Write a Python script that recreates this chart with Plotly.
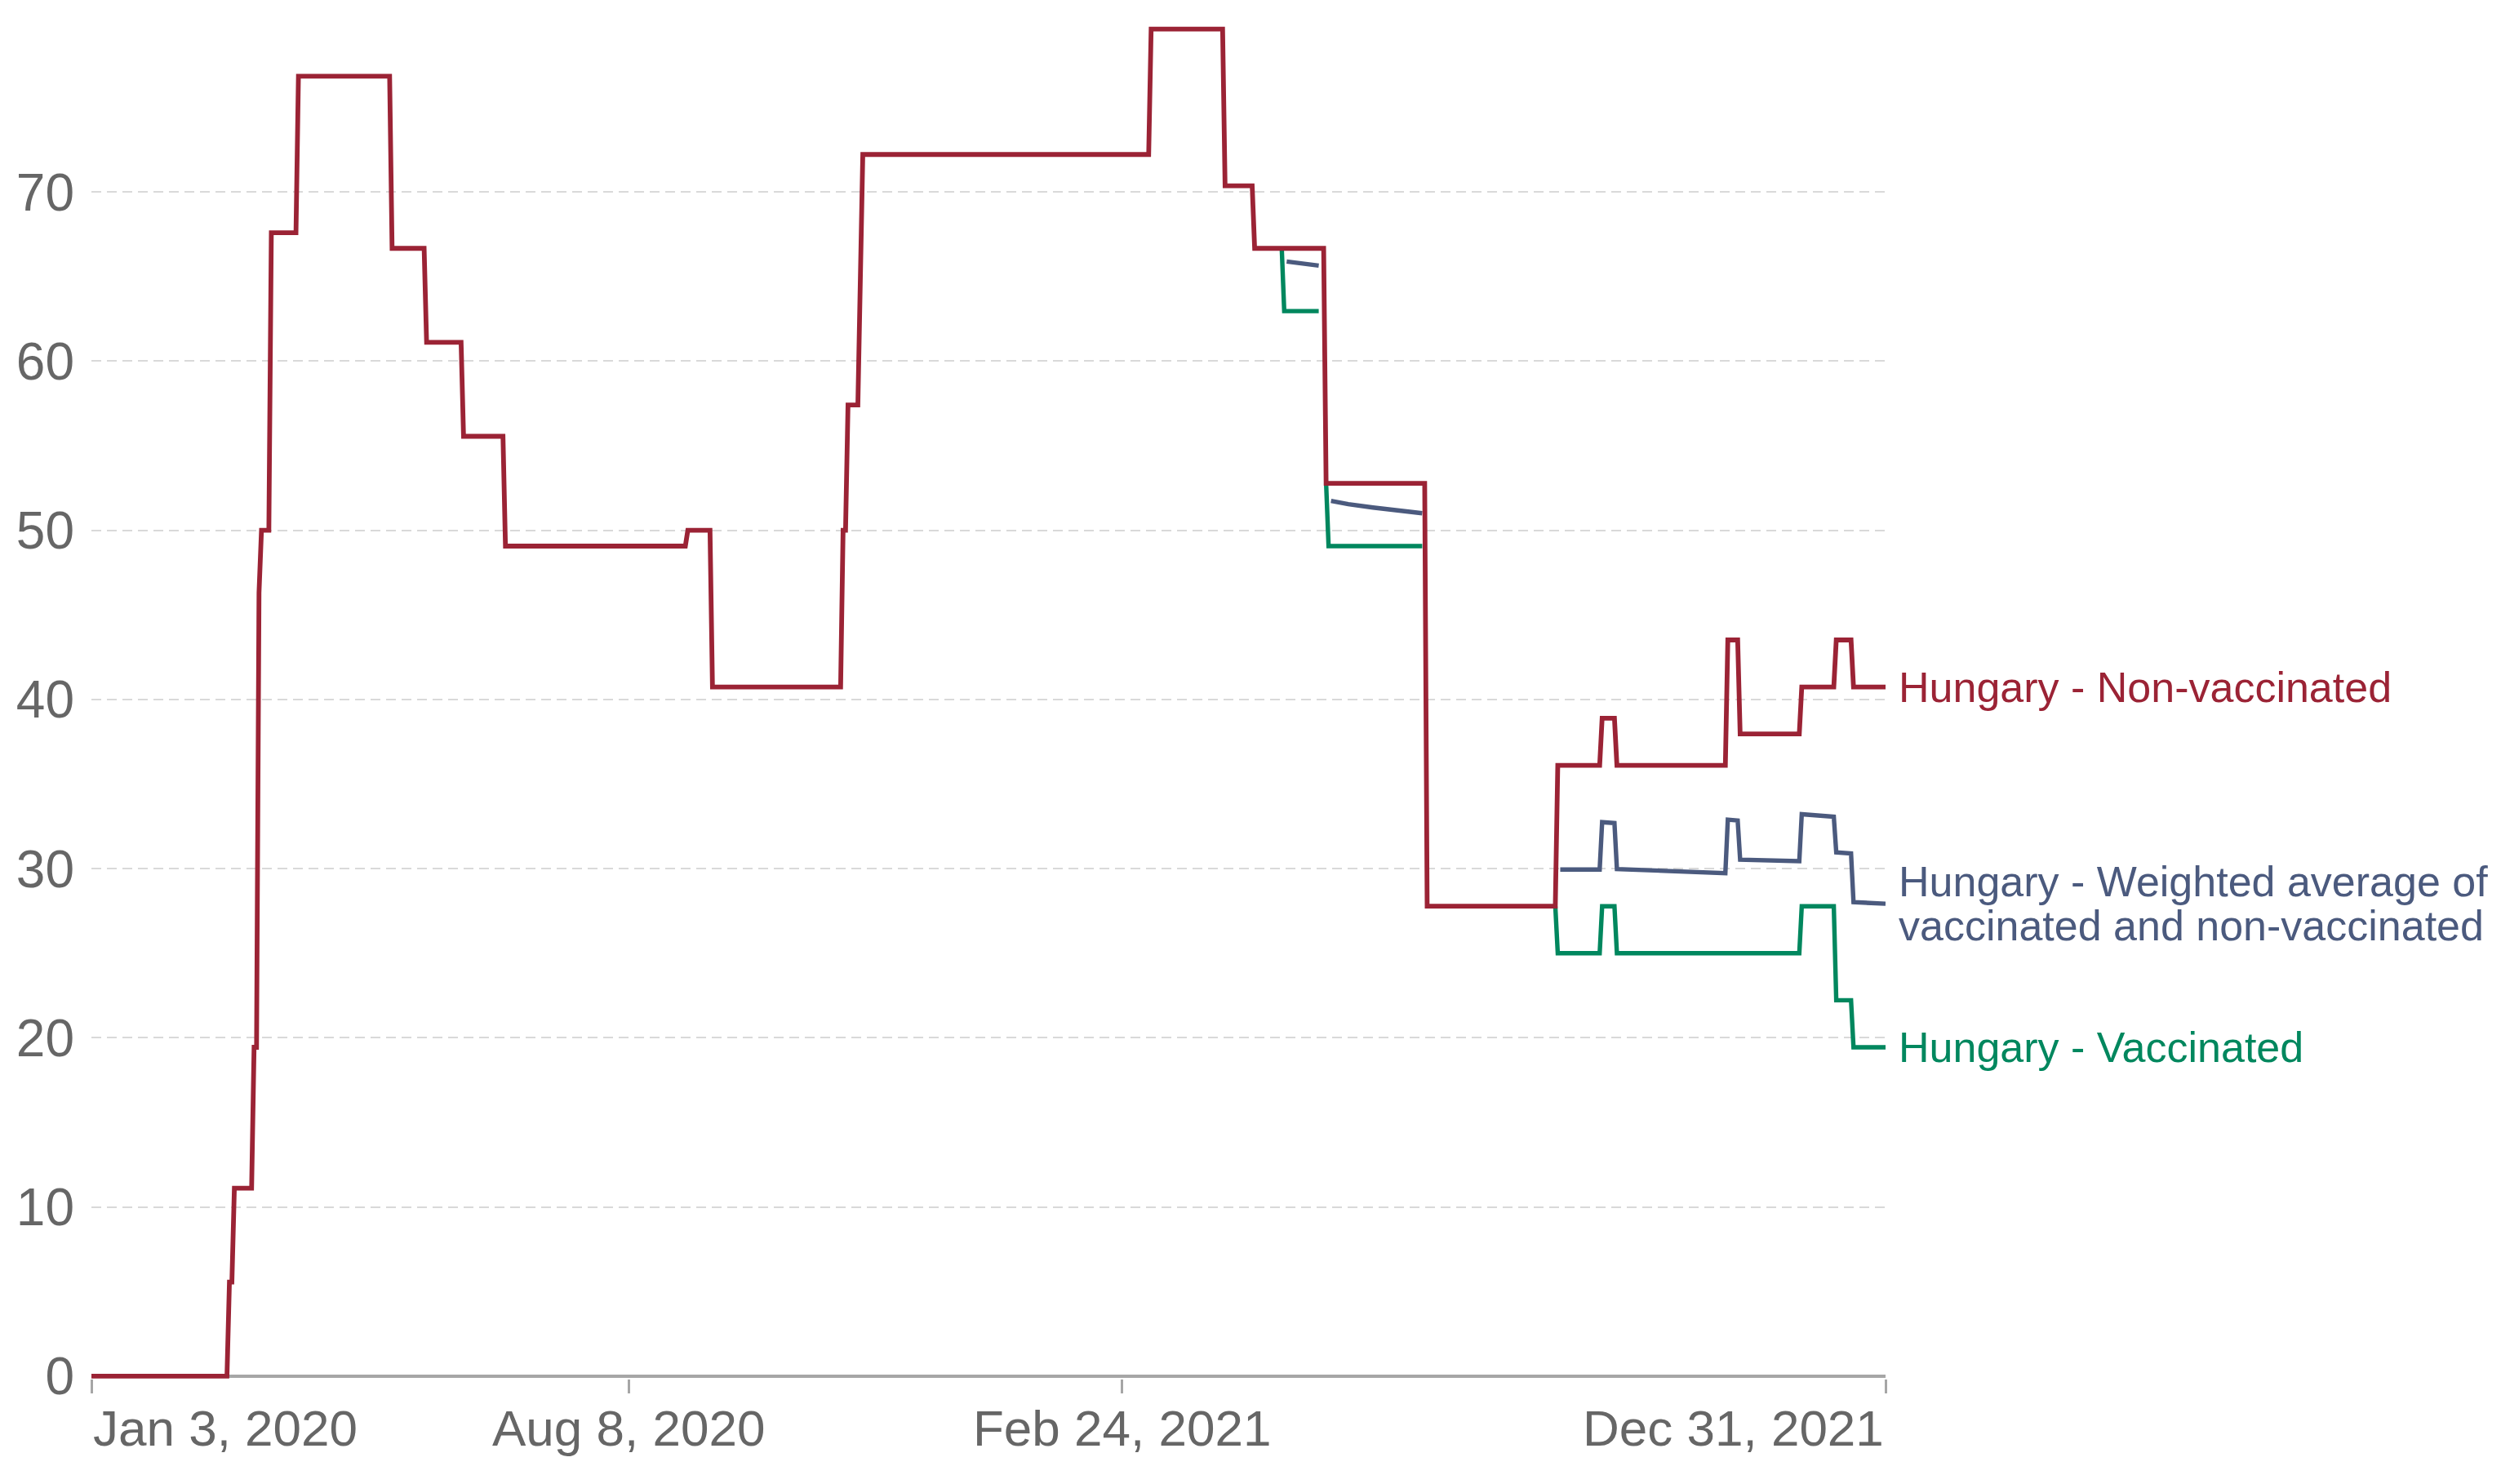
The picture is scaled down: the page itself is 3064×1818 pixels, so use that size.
import plotly.graph_objects as go

# ---------------- data ----------------
nonvax_dates = ["2020-01-03", "2020-02-27", "2020-02-28", "2020-02-29", "2020-03-01", "2020-03-08",
                "2020-03-09", "2020-03-10", "2020-03-11", "2020-03-12", "2020-03-15", "2020-03-16",
                "2020-03-26", "2020-03-27", "2020-05-03", "2020-05-04", "2020-05-17", "2020-05-18",
                "2020-06-01", "2020-06-02", "2020-06-18", "2020-06-19", "2020-08-31", "2020-09-01",
                "2020-09-10", "2020-09-11", "2020-11-02", "2020-11-03", "2020-11-04", "2020-11-05",
                "2020-11-09", "2020-11-11", "2021-03-07", "2021-03-08", "2021-04-06", "2021-04-07",
                "2021-04-18", "2021-04-19", "2021-05-17", "2021-05-18", "2021-06-27", "2021-06-28",
                "2021-08-19", "2021-08-20", "2021-09-06", "2021-09-07", "2021-09-12", "2021-09-13",
                "2021-10-27", "2021-10-28", "2021-11-01", "2021-11-02", "2021-11-26", "2021-11-27",
                "2021-12-10", "2021-12-11", "2021-12-17", "2021-12-18", "2021-12-31"]
nonvax_values = [0, 0, 5.56, 5.56, 11.11, 11.11, 19.44, 19.44, 46.3, 50, 50, 67.59,
                 67.59, 76.85, 76.85, 66.67, 66.67, 61.11, 61.11, 55.56, 55.56, 49.07, 49.07, 50,
                 50, 40.74, 40.74, 50, 50, 57.41, 57.41, 72.22, 72.22, 79.63, 79.63, 70.37,
                 70.37, 66.67, 66.67, 52.78, 52.78, 27.78, 27.78, 36.11, 36.11, 38.89, 38.89, 36.11,
                 36.11, 43.52, 43.52, 37.96, 37.96, 40.74, 40.74, 43.52, 43.52, 40.74, 40.74]

vax_dates = ["2021-04-30", "2021-05-01", "2021-05-15", "2021-05-16",
             "2021-05-18", "2021-05-19", "2021-06-26", "2021-07-15",
             "2021-08-19", "2021-08-20", "2021-09-06", "2021-09-07", "2021-09-12", "2021-09-13",
             "2021-11-26", "2021-11-27", "2021-12-10", "2021-12-11", "2021-12-17", "2021-12-18",
             "2021-12-31"]
vax_values = [66.67, 62.96, 62.96, None,
              52.78, 49.07, 49.07, None,
              27.78, 25, 25, 27.78, 27.78, 25,
              25, 27.78, 27.78, 22.22, 22.22, 19.44,
              19.44]

avg_dates = ["2021-05-02", "2021-05-08", "2021-05-15", "2021-05-17",
             "2021-05-20", "2021-05-27", "2021-06-06", "2021-06-16", "2021-06-26", "2021-07-15",
             "2021-08-21", "2021-09-06", "2021-09-07", "2021-09-12", "2021-09-13", "2021-10-04",
             "2021-10-27", "2021-10-28", "2021-11-01", "2021-11-02", "2021-11-26", "2021-11-27",
             "2021-12-10", "2021-12-11", "2021-12-17", "2021-12-18", "2021-12-31"]
avg_values = [65.89, 65.78, 65.65, None,
              51.74, 51.55, 51.35, 51.18, 51.01, None,
              29.95, 29.95, 32.75, 32.7, 29.98, 29.85,
              29.73, 32.9, 32.85, 30.53, 30.44, 33.22,
              33.07, 30.96, 30.9, 28.02, 27.93]

x_tick_dates = ["2020-01-03", "2020-08-08", "2021-02-24", "2021-12-31"]
x_tick_labels = ["Jan 3, 2020", "Aug 8, 2020", "Feb 24, 2021", "Dec 31, 2021"]
x_tick_anchor = ["left", "center", "center", "right"]
y_ticks = [0, 10, 20, 30, 40, 50, 60, 70]

series_names = ["Hungary - Weighted average of vaccinated and non-vaccinated",
                "Hungary - Vaccinated", "Hungary - Non-vaccinated"]

# ---------------- style ----------------
RED = "#9b2335"
BLUE = "#4b5a7e"
GREEN = "#00875e"
FONT = "Liberation Sans, Arial, sans-serif"

fig = go.Figure()
fig.add_trace(go.Scatter(x=avg_dates, y=avg_values, mode="lines", name=series_names[0],
                         line=dict(color=BLUE, width=5.4), connectgaps=False))
fig.add_trace(go.Scatter(x=vax_dates, y=vax_values, mode="lines", name=series_names[1],
                         line=dict(color=GREEN, width=5.4), connectgaps=False))
fig.add_trace(go.Scatter(x=nonvax_dates, y=nonvax_values, mode="lines", name=series_names[2],
                         line=dict(color=RED, width=5.8)))

annotations = []
for d, t, a in zip(x_tick_dates, x_tick_labels, x_tick_anchor):
    annotations.append(dict(x=d, xref="x", y=0, yref="paper", text=t, showarrow=False,
                            xanchor=a, yanchor="top", yshift=-24,
                            font=dict(family=FONT, size=62, color="#666666")))

label_specs = [
    ("Hungary - Non-vaccinated", nonvax_values[-1], RED, 0),
    ("Hungary - Weighted average of", avg_values[-1], BLUE, 27),
    ("vaccinated and non-vaccinated", avg_values[-1], BLUE, -27),
    ("Hungary - Vaccinated", vax_values[-1], GREEN, 0),
]
for text, yv, col, shift in label_specs:
    annotations.append(dict(x=1, xref="paper", y=yv, yref="y", text=text, showarrow=False,
                            xanchor="left", yanchor="middle", xshift=14, yshift=shift,
                            font=dict(family=FONT, size=52, color=col)))

# page body has an 8px default margin, so the figure is offset by 8px
fig.update_layout(
    width=3048, height=1802,
    margin=dict(l=104, r=746, t=20, b=121),
    paper_bgcolor="white", plot_bgcolor="white",
    showlegend=False,
    annotations=annotations,
    font=dict(family=FONT, color="#666666"),
)
fig.update_xaxes(
    type="date", range=["2020-01-03", "2021-12-31"],
    tickvals=x_tick_dates, showticklabels=False,
    ticks="outside", ticklen=17, tickwidth=2.5, tickcolor="#a6a6a6",
    showgrid=False, showline=False, zeroline=False, automargin=False,
)
fig.update_yaxes(
    range=[-0.15, 80], tickvals=y_ticks,
    tickfont=dict(family=FONT, size=64, color="#666666"),
    ticks="", ticklabelstandoff=20, automargin=False,
    showgrid=True, gridcolor="#d9d9d9", gridwidth=2, griddash="12px,7px",
    zeroline=True, zerolinecolor="#a6a6a6", zerolinewidth=4,
    showline=False,
)

fig.write_html("out.html")
